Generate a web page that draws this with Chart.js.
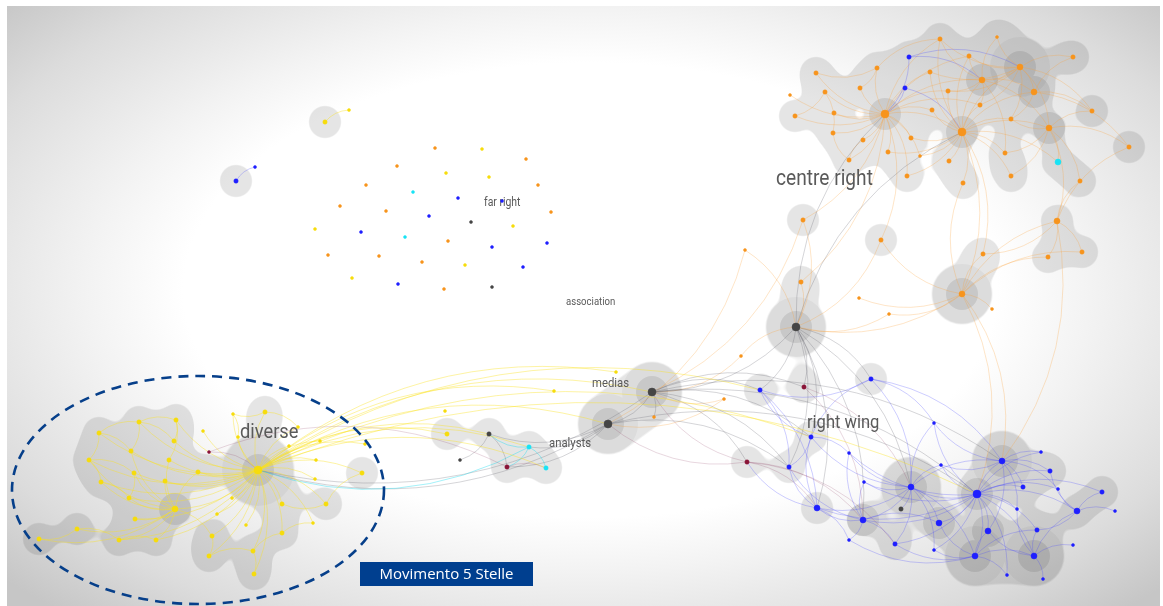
<!DOCTYPE html>
<html>
<head>
<meta charset="utf-8">
<script src="https://cdn.jsdelivr.net/npm/chart.js@4.4.1/dist/chart.umd.min.js"></script>
<style>
html, body { margin: 0; padding: 0; background: #fff; }
#wrap { position: relative; width: 1163px; height: 606px; }
</style>
</head>
<body>
<div id="wrap"><canvas id="net"></canvas></div>
<script>
// --- nodes: [x, y, size class, category, halo weight] ---
const centreRight = [
  [940,39,2,'o',1],[997,37,1,'o',1],[969,56,2,'o',1],[909,57,2,'b',1],[1020,67,3,'o',3],
  [1073,57,2,'o',1],[816,73,2,'o',1],[877,68,2,'o',1],[930,72,2,'o',1],[982,80,3,'o',2],
  [905,88,2,'b',1],[825,92,2,'o',1],[860,88,2,'o',1],[948,91,2,'o',1],[1034,92,3,'o',2],
  [790,95,1,'o',0],[980,105,2,'o',1],[1092,111,2,'o',1],[795,116,2,'o',1],[834,113,2,'o',1],
  [885,114,4,'o',2],[932,110,2,'o',1],[962,132,4,'o',2],[1011,119,2,'o',1],[1049,128,3,'o',2],
  [833,133,2,'o',1],[863,140,2,'o',1],[911,138,2,'o',1],[888,152,2,'o',1],[920,156,1,'o',0],
  [949,161,2,'o',1],[1005,153,2,'o',1],[1129,147,2,'o',1],[1058,162,3,'c',1],[849,160,2,'o',1],
  [907,176,2,'o',1],[963,183,2,'o',1],[1011,176,2,'o',1],[1080,181,2,'o',1],[803,220,2,'o',1],
  [881,240,2,'o',1],[1057,221,3,'o',1],[983,254,2,'o',1],[1048,257,2,'o',1],[1082,252,2,'o',1],
  [801,282,2,'o',1],[962,294,3,'o',3],[859,298,1,'o',0],[992,309,1,'o',0],[745,250,1,'o',0],
  [741,356,1,'o',0],[889,314,1,'o',0],[724,399,1,'o',0]
];
const rightWing = [
  [760,390,2,'b',1],[804,387,2,'m',1],[871,379,2,'b',1],[934,423,1,'b',0],[811,437,2,'b',1],
  [849,453,1,'b',0],[747,462,2,'m',1],[789,467,2,'b',1],[941,465,1,'b',0],[1002,461,3,'b',3],
  [1041,452,1,'b',0],[1050,471,2,'b',1],[864,482,1,'b',0],[911,487,3,'b',3],[977,494,4,'b',2],
  [1023,487,2,'b',1],[1058,489,1,'b',0],[1102,492,2,'b',1],[1077,511,3,'b',1],[1115,511,1,'b',0],
  [817,508,3,'b',1],[901,509,2,'k',0],[863,520,3,'b',2],[939,523,3,'b',2],[1017,509,1,'b',0],
  [988,531,3,'b',2],[1037,530,2,'b',1],[849,540,1,'b',0],[895,544,2,'b',1],[934,550,1,'b',0],
  [1073,545,1,'b',0],[975,556,3,'b',3],[1034,556,3,'b',3],[1007,575,1,'b',0],[1043,579,1,'b',0]
];
const media = [
  [796,327,4,'k',3],[652,392,4,'k',3],[608,424,4,'k',3],[654,417,1,'o',0],[616,372,1,'y',0],
  [554,391,1,'y',0],[445,411,1,'y',0],[447,434,2,'y',1],[489,434,2,'k',1],[529,447,2,'c',1],
  [460,460,1,'k',0],[507,467,2,'m',1],[546,468,2,'c',1]
];
const diverse = [
  [258,470,4,'y',4],[99,433,2,'y',1],[139,422,2,'y',1],[176,420,2,'y',1],[233,414,1,'y',0],
  [265,412,2,'y',1],[203,431,1,'y',0],[174,441,2,'y',1],[131,451,2,'y',1],[89,460,2,'y',1],
  [169,460,2,'y',1],[209,452,1,'m',0],[134,473,2,'y',1],[198,472,2,'y',1],[101,482,2,'y',1],
  [165,481,2,'y',1],[129,498,2,'y',1],[175,509,3,'y',2],[232,498,1,'y',0],[282,504,2,'y',1],
  [326,504,2,'y',1],[362,473,2,'y',1],[316,460,1,'y',0],[320,441,1,'y',0],[298,427,1,'y',0],
  [238,437,1,'y',0],[289,446,1,'y',0],[315,479,1,'y',0],[135,519,2,'y',1],[217,514,1,'y',0],
  [246,525,1,'y',0],[313,523,1,'y',0],[282,533,2,'y',1],[212,536,2,'y',1],[156,540,2,'y',1],
  [119,540,2,'y',1],[77,529,2,'y',1],[39,539,2,'y',1],[209,556,2,'y',1],[253,551,2,'y',1],
  [254,574,2,'y',1],[365,444,1,'y',0]
];
const fringe = [
  [325,122,2,'y',1],[349,110,1,'y',0],[236,181,2,'b',1],[255,167,1,'b',0],
  [435,148,1,'o',0],[482,149,1,'y',0],[526,159,1,'o',0],[397,166,1,'o',0],[446,173,1,'y',0],
  [489,177,1,'y',0],[366,185,1,'o',0],[538,185,1,'o',0],[413,192,1,'c',0],[458,198,1,'b',0],
  [502,201,1,'b',0],[340,206,1,'o',0],[386,211,1,'o',0],[551,212,1,'o',0],[429,216,1,'b',0],
  [471,222,1,'k',0],[513,226,1,'y',0],[315,229,1,'y',0],[361,232,1,'b',0],[405,237,1,'c',0],
  [448,241,1,'o',0],[492,247,1,'b',0],[547,243,1,'b',0],[328,255,1,'o',0],[379,256,1,'o',0],
  [422,262,1,'o',0],[465,265,1,'y',0],[523,267,1,'b',0],[352,278,1,'y',0],[398,284,1,'b',0],
  [444,289,1,'o',0],[492,287,1,'k',0]
];

// --- links: source id, then its targets ---
const centreRightLinks = [
  ['C20','C6 C7 C11 C12 C15 C18 C19 C25 C26 C27 C28 C34 C35 C8 C13 C21 C22 C9 C29 C39 C45 C40 C2 C0 C16'],
  ['C10','C22 C20'], ['C3','C4 C9 C20'],
  ['C22','C8 C13 C16 C21 C23 C27 C29 C30 C31 C36 C37 C9 C4 C14 C24 C33 C46 C42 C0 C2 C35 C28'],
  ['C4','C1 C2 C5 C9 C14 C16 C23 C24 C17 C0 C8 C13'],
  ['C9','C0 C2 C13 C16 C14 C24 C31 C1'],
  ['C24','C33 C38 C17 C32 C37 C31 C41 C23'],
  ['C14','C5 C17 C23 C32'],
  ['C46','C42 C41 C43 C44 C40 C36 C48 C51 C47 M0 R9 R14'],
  ['C41','C43 C44 C38 C42 C32 R9'],
  ['C7','C6 C12 C0'], ['C11','C18 C25'], ['C34','C26 C25'],
  ['C39','M0 M1'], ['C45','M0'], ['C49','M2 M0'], ['C40','M0'],
  ['C50','M1 M0'], ['C52','M2 M1'], ['C51','M0']
];
const rightWingLinks = [
  ['R14','R9 R13 R15 R11 R16 R17 R25 R26 R23 R22 R31 R32 R24 R8 R3 R12 R29 R33 R28 R10 R20 R18 R5'],
  ['R13','R12 R5 R8 R22 R23 R21 R29 R28 R20 R4 R9 R31 R3'],
  ['R9','R10 R11 R15 R24 R3 R8 R25 R16'],
  ['R31','R25 R32 R33 R23 R29 R28 R26 R27'],
  ['R32','R26 R34 R30 R24 R18 R25'],
  ['R18','R17 R19 R16 R11 R26'],
  ['R22','R20 R27 R28 R12 R7 R5 R23'],
  ['R20','R7 R6 R4 R27'], ['R4','R7 R0 R2 R5'], ['R2','R3 R13 R0 R9'],
  ['R1','R13 R22'], ['R6','M1 M2 R20 R22 R28'], ['R0','R7 R20']
];
const mediaLinks = [
  ['M0','R0 R1 R4 R7 R2 R20 R22 R13 M1 C20 C22'],
  ['M1','R0 R1 R6 R4 R7 R14 R9 M2 M3 D0'],
  ['M2','M9 M11 M8 R7 R14 D0'],
  ['M9','M12 M11 M8 D0'], ['M8','M11 M10'], ['M11','M12'],
  ['D11','M11 D0']
];
const diverseLinks = [
  ['D0','D1 D2 D3 D4 D5 D6 D7 D8 D9 D10 D12 D13 D14 D15 D16 D17 D18 D19 D20 D21 D22 D23 D24 D25 D26 D27 D28 D29 D30 D31 D32 D33 D34 D35 D38 D39 D40 D41 M1 M2 M8 M9 M12 M7 M5 M4 R0 R4 R14'],
  ['D17','D12 D14 D15 D16 D28 D34 D35 D36 D37 D10 D13 D33 D8 D9'],
  ['D1','D8 D9 D2'], ['D2','D7 D8 D3'], ['D3','D7 D10'], ['D9','D12 D14'],
  ['D12','D16'], ['D14','D16'], ['D36','D37 D35'], ['D35','D34'], ['D33','D38'],
  ['D38','D39'], ['D39','D40 D32'], ['D32','D31'], ['D20','D21 D19'],
  ['D5','D24 D4'], ['D4','D25']
];
const fringeLinks = [['F0','F1'], ['F2','F3']];

// --- labels ---
const labelTexts = ['centre right', 'far right', 'association', 'medias', 'analysts', 'diverse', 'right wing'];
const labelX = [776, 484, 566, 592, 549, 240, 807];
const labelY = [185, 206, 305, 387, 447, 438, 428];
const legendText = 'Movimento 5 Stelle';

// --- styles ---
const catColor = { o: '#f7941d', b: '#1f1fff', y: '#f6dc0c', k: '#454545', m: '#8a1538', c: '#19e3f5' };
const catEdge = {
  o: 'rgba(250,160,50,0.30)', b: 'rgba(70,70,255,0.30)', y: 'rgba(250,225,30,0.45)',
  k: 'rgba(100,100,110,0.30)', m: 'rgba(140,50,90,0.22)', c: 'rgba(30,220,240,0.45)'
};
const sizeRadius = { 1: 1.5, 2: 2.2, 3: 3, 4: 4 };
const haloOuter = { 1: 16, 2: 16, 3: 30, 4: 36 };
const labelFont = [22, 12, 11, 13, 13, 21, 19];
const labelSquash = 0.87;
const FONT = 'Roboto, "DejaVu Sans", sans-serif';
const BLOB_REACH = 2.25;   // kernel reach as a multiple of the halo radius

const groups = { C: centreRight, R: rightWing, M: media, D: diverse, F: fringe };
const toPoints = arr => arr.map(([x, y, s, c, w]) => ({ x, y, s, c, w }));
const nodeOf = id => {
  const n = groups[id[0]][+id.slice(1)];
  return { x: n[0], y: n[1], c: n[3] };
};
const allNodes = [].concat(centreRight, rightWing, media, diverse, fringe);

const links = [];
[centreRightLinks, rightWingLinks, mediaLinks, diverseLinks, fringeLinks].forEach(list => {
  list.forEach(([src, targets]) => {
    targets.split(' ').forEach(t => links.push([src, t]));
  });
});

const haloData = (test, radius) => allNodes
  .filter(n => test(n[4]))
  .map(n => ({ x: n[0], y: n[1], r: radius(n[4]) }));

// soft blob (metaball) union of the halo discs, painted on a layer
function drawBlob(chart, meta, ds) {
  const dpr = chart.currentDevicePixelRatio || 1;
  const W = chart.canvas.width, H = chart.canvas.height;
  const field = new Float32Array(W * H);
  const k = BLOB_REACH;
  const T = Math.pow(1 - 1 / (k * k), 3);
  meta.data.forEach((el, i) => {
    const R = ds.data[i].r * dpr;
    const cx = el.x * dpr, cy = el.y * dpr, Rc = R * k, Rc2 = Rc * Rc;
    const xa = Math.max(0, Math.floor(cx - Rc)), xb = Math.min(W - 1, Math.ceil(cx + Rc));
    const ya = Math.max(0, Math.floor(cy - Rc)), yb = Math.min(H - 1, Math.ceil(cy + Rc));
    for (let y = ya; y <= yb; y++) {
      const dy = y + 0.5 - cy;
      for (let x = xa; x <= xb; x++) {
        const dx = x + 0.5 - cx;
        const q = (dx * dx + dy * dy) / Rc2;
        if (q < 1) { const t = 1 - q; field[y * W + x] += t * t * t; }
      }
    }
  });
  const layer = document.createElement('canvas');
  layer.width = W; layer.height = H;
  const lctx = layer.getContext('2d');
  const img = lctx.createImageData(W, H);
  const a = ds.haloAlpha * 255, band = T * 0.06;
  for (let p = 0; p < field.length; p++) {
    const f = field[p];
    if (f <= T - band) continue;
    const cov = f >= T + band ? 1 : (f - (T - band)) / (2 * band);
    img.data[p * 4 + 3] = a * cov;
  }
  lctx.putImageData(img, 0, 0);
  const ctx = chart.ctx;
  ctx.save();
  ctx.setTransform(1, 0, 0, 1, 0, 0);
  ctx.drawImage(layer, 0, 0);
  ctx.restore();
}

// plain union of discs (no blending between overlaps)
function drawDiscs(chart, meta, ds) {
  const ctx = chart.ctx;
  ctx.save();
  ctx.beginPath();
  meta.data.forEach((el, i) => {
    const r = ds.data[i].r;
    ctx.moveTo(el.x + r, el.y);
    ctx.arc(el.x, el.y, r, 0, Math.PI * 2);
  });
  ctx.fillStyle = 'rgba(0,0,0,' + ds.haloAlpha + ')';
  ctx.fill('nonzero');
  ctx.restore();
}

// --- plugin: background, halo unions, edges, labels, overlay ---
const netPlugin = {
  id: 'net',
  beforeDraw(chart) {
    const { ctx, width, height } = chart;
    const xs = chart.scales.x, ys = chart.scales.y;
    ctx.save();
    ctx.fillStyle = '#fff';
    ctx.fillRect(0, 0, width, height);
    const x0 = xs.getPixelForValue(7), x1 = xs.getPixelForValue(1160);
    const y0 = ys.getPixelForValue(6), y1 = ys.getPixelForValue(606);
    ctx.beginPath();
    ctx.rect(x0, y0, x1 - x0, y1 - y0);
    ctx.clip();
    ctx.translate(xs.getPixelForValue(590), ys.getPixelForValue(290));
    ctx.scale(680, 380);
    const g = ctx.createRadialGradient(0, 0, 0, 0, 0, 1.15);
    g.addColorStop(0, '#ffffff');
    g.addColorStop(0.52, '#ffffff');
    g.addColorStop(0.64, '#f3f3f3');
    g.addColorStop(0.85, '#dcdcdc');
    g.addColorStop(1, '#c6c6c6');
    ctx.fillStyle = g;
    ctx.fillRect(-2, -2, 4, 4);
    ctx.restore();
  },
  beforeDatasetDraw(chart, args) {
    const ds = chart.data.datasets[args.index];
    const { ctx } = chart;
    if (ds.kind === 'halo') {
      if (ds.blob) drawBlob(chart, args.meta, ds);
      else drawDiscs(chart, args.meta, ds);
      return false;
    }
    if (ds.kind === 'edges') {
      const xs = chart.scales.x, ys = chart.scales.y;
      ctx.save();
      ctx.lineWidth = 0.9;
      links.forEach(([a, b]) => {
        const p = nodeOf(a), q = nodeOf(b);
        const px = xs.getPixelForValue(p.x), py = ys.getPixelForValue(p.y);
        const qx = xs.getPixelForValue(q.x), qy = ys.getPixelForValue(q.y);
        const dx = qx - px, dy = qy - py;
        const k = 0.22;
        const cx = (px + qx) / 2 + dy * k, cy = (py + qy) / 2 - dx * k;
        ctx.strokeStyle = catEdge[p.c];
        ctx.beginPath();
        ctx.moveTo(px, py);
        ctx.quadraticCurveTo(cx, cy, qx, qy);
        ctx.stroke();
      });
      // labels sit under the nodes
      ctx.fillStyle = '#5a5a5a';
      ctx.textBaseline = 'alphabetic';
      labelTexts.forEach((t, i) => {
        ctx.save();
        ctx.translate(xs.getPixelForValue(labelX[i]), ys.getPixelForValue(labelY[i]));
        ctx.scale(labelSquash, 1);
        ctx.font = labelFont[i] + 'px ' + FONT;
        ctx.fillText(t, 0, 0);
        ctx.restore();
      });
      ctx.restore();
      return false;
    }
  },
  afterDatasetsDraw(chart) {
    const { ctx } = chart;
    const xs = chart.scales.x, ys = chart.scales.y;
    ctx.save();
    // dashed ring round the diverse group
    const cx = xs.getPixelForValue(198), cy = ys.getPixelForValue(490);
    const rx = xs.getPixelForValue(384) - cx, ry = ys.getPixelForValue(604) - cy;
    ctx.strokeStyle = '#063f8a';
    ctx.lineWidth = 2.6;
    ctx.setLineDash([10, 7]);
    ctx.beginPath();
    ctx.ellipse(cx, cy, rx, Math.abs(ry), 0, 0, Math.PI * 2);
    ctx.stroke();
    ctx.setLineDash([]);
    // legend box
    const bx = xs.getPixelForValue(360), by = ys.getPixelForValue(562);
    const bw = xs.getPixelForValue(533) - bx, bh = ys.getPixelForValue(586) - by;
    ctx.fillStyle = '#003f8f';
    ctx.fillRect(bx, by, bw, bh);
    ctx.fillStyle = '#fff';
    ctx.font = '15px "Open Sans", "Noto Sans", sans-serif';
    ctx.textAlign = 'center';
    ctx.textBaseline = 'middle';
    ctx.fillText(legendText, bx + bw / 2, by + bh / 2 + 1);
    ctx.restore();
  }
};

const nodeDataset = (label, arr) => ({
  label,
  data: toPoints(arr),
  order: 0,
  pointRadius: c => sizeRadius[c.raw.s],
  pointBackgroundColor: c => catColor[c.raw.c],
  pointBorderColor: c => catColor[c.raw.c],
  pointBorderWidth: 0.5
});

new Chart(document.getElementById('net'), {
  type: 'scatter',
  data: {
    datasets: [
      nodeDataset('centre right', centreRight),
      nodeDataset('right wing', rightWing),
      nodeDataset('medias', media),
      nodeDataset('diverse', diverse),
      nodeDataset('far right', fringe),
      { kind: 'edges', label: 'edges', data: [], order: 5 },
      { kind: 'halo', type: 'bubble', label: 'halo dark', order: 10, blob: false,
        haloAlpha: 0.09, data: haloData(w => w >= 2, () => 16) },
      { kind: 'halo', type: 'bubble', label: 'halo mid', order: 20, blob: false,
        haloAlpha: 0.04, data: haloData(w => w >= 3, w => haloOuter[w]) },
      { kind: 'halo', type: 'bubble', label: 'halo light', order: 30, blob: true,
        haloAlpha: 0.1, data: haloData(w => w >= 1, w => haloOuter[w]) }
    ]
  },
  options: {
    responsive: true,
    maintainAspectRatio: false,
    animation: false,
    events: [],
    layout: { padding: 0, autoPadding: false },
    scales: {
      x: { type: 'linear', min: 0, max: 1163, display: false },
      y: { type: 'linear', min: 0, max: 606, reverse: true, display: false }
    },
    plugins: { legend: { display: false }, tooltip: { enabled: false } }
  },
  plugins: [netPlugin]
});
</script>
</body>
</html>
